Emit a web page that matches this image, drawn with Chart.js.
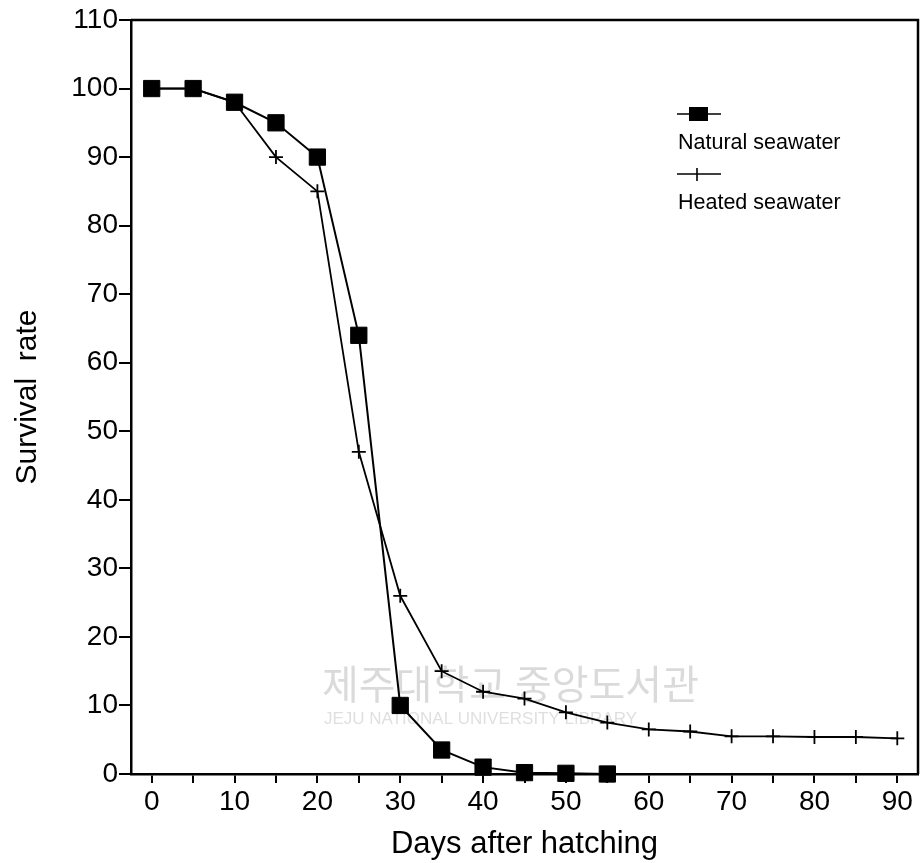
<!DOCTYPE html>
<html>
<head>
<meta charset="utf-8">
<script src="https://cdn.jsdelivr.net/npm/chart.js@4/dist/chart.umd.min.js"></script>
<style>
html,body{margin:0;padding:0;background:#fff;}
#wrap{position:relative;width:922px;height:863px;}
</style>
</head>
<body>
<div id="wrap"><canvas id="c" width="922" height="863"></canvas></div>
<script>
const xTickValues = [0,5,10,15,20,25,30,35,40,45,50,55,60,65,70,75,80,85,90];
const naturalDays = [0,5,10,15,20,25,30,35,40,45,50,55];
const naturalValues = [100,100,98,95,90,64,10,3.5,1,0.2,0.1,0];
const heatedDays = [0,5,10,15,20,25,30,35,40,45,50,55,60,65,70,75,80,85,90];
const heatedValues = [100,100,98,90,85,47,26,15,12,11,9,7.5,6.5,6.2,5.5,5.5,5.4,5.4,5.2];
const seriesNames = ['Natural seawater','Heated seawater'];
const xTitle = 'Days after hatching';
const yTitle = 'Survival  rate';
const watermark1 = '제주대학교 중앙도서관';
const watermark2 = 'JEJU NATIONAL UNIVERSITY LIBRARY';

const FONT = '"Liberation Sans", Arial, Helvetica, sans-serif';

const toXY = (xs, ys) => xs.map((x,i)=>({x:x, y:ys[i]}));

const framePlugin = {
  id:'frame',
  beforeDatasetsDraw(chart){
    const {ctx} = chart;
    ctx.save();
    ctx.fillStyle = 'rgba(150,150,150,0.35)';
    ctx.font = '40px "Noto Sans CJK KR", sans-serif';
    ctx.textBaseline = 'middle';
    ctx.textAlign = 'left';
    ctx.fillText(watermark1, 322, 684);
    ctx.font = '17px ' + FONT;
    ctx.fillStyle = 'rgba(150,150,150,0.3)';
    ctx.fillText(watermark2, 324, 719);
    ctx.restore();
  },
  afterDraw(chart){
    const {ctx, chartArea:a} = chart;
    ctx.save();
    ctx.strokeStyle = '#000';
    ctx.lineWidth = 2.5;
    ctx.beginPath();
    ctx.moveTo(a.left, a.top);
    ctx.lineTo(a.right, a.top);
    ctx.lineTo(a.right, a.bottom);
    ctx.stroke();
    // legend
    const lx = 677, lx2 = 721;
    ctx.lineWidth = 1.6;
    ctx.beginPath(); ctx.moveTo(lx, 114); ctx.lineTo(lx2, 114); ctx.stroke();
    ctx.fillStyle = '#000';
    ctx.fillRect(689, 107, 19, 14);
    ctx.beginPath(); ctx.moveTo(lx, 174); ctx.lineTo(lx2, 174); ctx.stroke();
    ctx.beginPath(); ctx.moveTo(697, 168); ctx.lineTo(697, 181); ctx.stroke();
    ctx.font = '21.5px ' + FONT;
    ctx.textAlign = 'left';
    ctx.textBaseline = 'alphabetic';
    ctx.fillText(seriesNames[0], 678, 149);
    ctx.fillText(seriesNames[1], 678, 209);
    ctx.restore();
  }
};

new Chart(document.getElementById('c'), {
  type:'line',
  data:{
    datasets:[
      {
        label: seriesNames[1],
        data: toXY(heatedDays, heatedValues),
        borderColor:'#000', backgroundColor:'#000',
        borderWidth:1.8, clip:false,
        pointStyle:'cross', pointRadius:7, pointBorderWidth:1.8,
        pointBorderColor:'#000', tension:0
      },
      {
        label: seriesNames[0],
        data: toXY(naturalDays, naturalValues),
        borderColor:'#000', backgroundColor:'#000',
        borderWidth:2, clip:false,
        pointStyle:'rect', pointRadius:11.5, pointBorderWidth:1,
        pointBackgroundColor:'#000', pointBorderColor:'#000', tension:0
      }
    ]
  },
  options:{
    responsive:false,
    animation:false,
    events:[],
    layout:{autoPadding:false, padding:{left:0, right:4, top:20, bottom:0}},
    plugins:{legend:{display:false}, tooltip:{enabled:false}},
    scales:{
      x:{
        type:'linear', min:-2.5, max:92.5,
        afterFit(s){ s.height = 89; s.paddingRight = 0; s.paddingLeft = 0; },
        afterBuildTicks(s){ s.ticks = xTickValues.map(v=>({value:v})); },
        border:{display:true, color:'#000', width:2.5},
        grid:{display:true, drawOnChartArea:false, drawTicks:true, tickLength:9, color:'#000', lineWidth:2},
        ticks:{
          autoSkip:false, maxRotation:0,
          color:'#000', font:{family:FONT, size:28}, padding:2,
          callback:(v)=> (v % 10 === 0 ? String(v) : '')
        },
        title:{display:true, text:xTitle, color:'#000', font:{family:FONT, size:31}, padding:{top:0, bottom:0}}
      },
      y:{
        type:'linear', min:0, max:110,
        afterFit(s){ s.width = 131; },
        border:{display:true, color:'#000', width:2.5},
        grid:{display:true, drawOnChartArea:false, drawTicks:true, tickLength:12, color:'#000', lineWidth:2},
        ticks:{
          stepSize:10, autoSkip:false, color:'#000', font:{family:FONT, size:28}, padding:1
        },
        title:{display:true, text:yTitle, color:'#000', font:{family:FONT, size:30}, padding:{top:10, bottom:0}}
      }
    }
  },
  plugins:[framePlugin]
});
</script>
</body>
</html>
